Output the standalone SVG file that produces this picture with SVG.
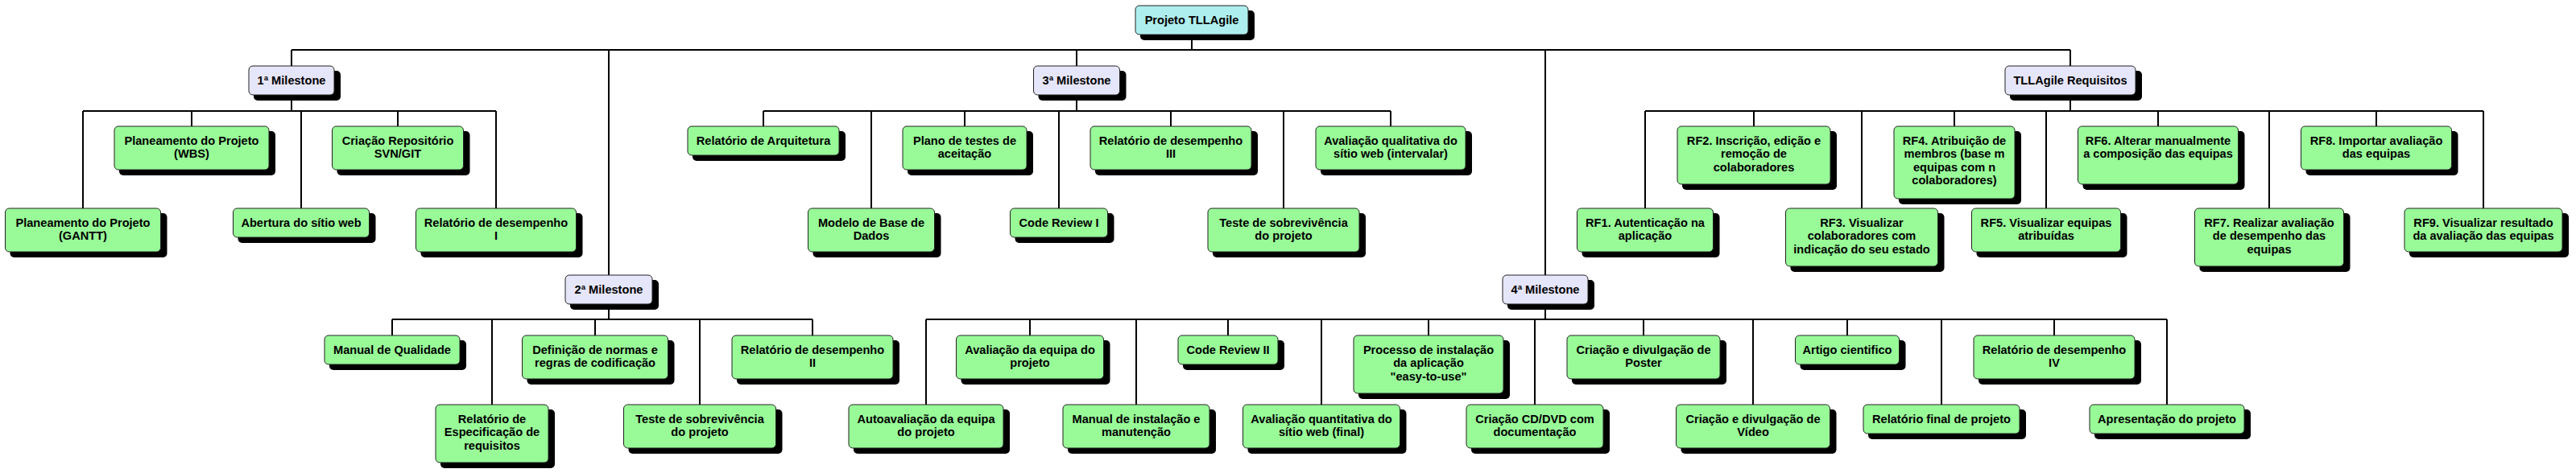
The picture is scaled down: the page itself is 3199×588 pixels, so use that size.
<svg xmlns="http://www.w3.org/2000/svg" width="3199" height="588" viewBox="0 0 3199 588">
<style>
.sh{fill:#000}
.bx{stroke:#222;stroke-width:1}
.root .bx{fill:#AFEEEE}
.ms .bx{fill:#E6E6FA}
.lf .bx{fill:#98FB98}
text{font-family:"Liberation Sans",Arial,sans-serif;font-weight:bold;font-size:14.6px;fill:#000;text-anchor:middle}
.cn{fill:none;stroke:#000;stroke-width:2}
</style>
<rect width="3199" height="588" fill="#fff"/>
<g id="connectors">
<path class="cn" d="M1480 43V62 M362 62H2571 M362 62V82 M756 62V342 M1337 62V82 M1919 62V342 M2571 62V82
M362 118V138 M103 138H616 M103 138V259 M238 138V157 M374 138V259 M494 138V157 M616 138V259
M1337 118V138 M948 138H1727 M948 138V157 M1082 138V259 M1198 138V157 M1315 138V259 M1454 138V157 M1594 138V259 M1727 138V157
M2571 118V138 M2043 138H3084 M2043 138V259 M2178 138V157 M2312 138V259 M2427 138V157 M2541 138V259 M2680 138V157 M2818 138V259 M2951 138V157 M3084 138V259
M756 378V397 M487 397H1009 M487 397V417 M611 397V503 M739 397V417 M869 397V503 M1009 397V417
M1919 378V397 M1150 397H2691 M1150 397V503 M1279 397V417 M1411 397V503 M1525 397V417 M1641 397V503 M1774 397V417 M1906 397V503 M2041 397V417 M2177 397V503 M2294 397V417 M2411 397V503 M2551 397V417 M2691 397V503"/>
</g>

<g id="root" class="root"><rect class="sh" x="1416" y="13" width="142" height="37" rx="5"/><rect class="bx" x="1410" y="7" width="140" height="36" rx="5"/><text x="1480" y="29.5">Projeto TLLAgile</text></g>

<g id="m1" class="ms"><rect class="sh" x="315" y="88" width="108" height="37" rx="5"/><rect class="bx" x="309" y="82" width="106" height="36" rx="5"/><text x="362" y="104.5">1ª Milestone</text></g>
<g id="m3" class="ms"><rect class="sh" x="1289.5" y="88" width="109" height="37" rx="5"/><rect class="bx" x="1283.5" y="82" width="107" height="36" rx="5"/><text x="1337" y="104.5">3ª Milestone</text></g>
<g id="req" class="ms"><rect class="sh" x="2496" y="88" width="164" height="37" rx="5"/><rect class="bx" x="2490" y="82" width="162" height="36" rx="5"/><text x="2571" y="104.5">TLLAgile Requisitos</text></g>
<g id="m2" class="ms"><rect class="sh" x="708" y="348" width="110" height="37" rx="5"/><rect class="bx" x="702" y="342" width="108" height="36" rx="5"/><text x="756" y="364.5">2ª Milestone</text></g>
<g id="m4" class="ms"><rect class="sh" x="1872" y="348" width="108" height="37" rx="5"/><rect class="bx" x="1866" y="342" width="106" height="36" rx="5"/><text x="1919" y="364.5">4ª Milestone</text></g>

<g id="gantt" class="lf"><rect class="sh" x="12.5" y="265" width="195" height="55" rx="5"/><rect class="bx" x="6.5" y="259" width="193" height="54" rx="5"/><text x="103" y="281.5">Planeamento do Projeto<tspan x="103" dy="16.6">(GANTT)</tspan></text></g>
<g id="wbs" class="lf"><rect class="sh" x="148" y="163" width="194" height="55" rx="5"/><rect class="bx" x="142" y="157" width="192" height="54" rx="5"/><text x="238" y="179.5">Planeamento do Projeto<tspan x="238" dy="16.6">(WBS)</tspan></text></g>
<g id="abertura" class="lf"><rect class="sh" x="295.5" y="265" width="171" height="37" rx="5"/><rect class="bx" x="289.5" y="259" width="169" height="36" rx="5"/><text x="374" y="281.5">Abertura do sítio web</text></g>
<g id="repo" class="lf"><rect class="sh" x="418.5" y="163" width="165" height="55" rx="5"/><rect class="bx" x="412.5" y="157" width="163" height="54" rx="5"/><text x="494" y="179.5">Criação Repositório<tspan x="494" dy="16.6">SVN/GIT</tspan></text></g>
<g id="rel1" class="lf"><rect class="sh" x="522.5" y="265" width="201" height="55" rx="5"/><rect class="bx" x="516.5" y="259" width="199" height="54" rx="5"/><text x="616" y="281.5">Relatório de desempenho<tspan x="616" dy="16.6">I</tspan></text></g>

<g id="arq" class="lf"><rect class="sh" x="860" y="163" width="190" height="37" rx="5"/><rect class="bx" x="854" y="157" width="188" height="36" rx="5"/><text x="948" y="179.5">Relatório de Arquitetura</text></g>
<g id="bd" class="lf"><rect class="sh" x="1009.5" y="265" width="159" height="55" rx="5"/><rect class="bx" x="1003.5" y="259" width="157" height="54" rx="5"/><text x="1082" y="281.5">Modelo de Base de<tspan x="1082" dy="16.6">Dados</tspan></text></g>
<g id="plano" class="lf"><rect class="sh" x="1127" y="163" width="156" height="55" rx="5"/><rect class="bx" x="1121" y="157" width="154" height="54" rx="5"/><text x="1198" y="179.5">Plano de testes de<tspan x="1198" dy="16.6">aceitação</tspan></text></g>
<g id="cr1" class="lf"><rect class="sh" x="1260.5" y="265" width="123" height="37" rx="5"/><rect class="bx" x="1254.5" y="259" width="121" height="36" rx="5"/><text x="1315" y="281.5">Code Review I</text></g>
<g id="rel3" class="lf"><rect class="sh" x="1360" y="163" width="202" height="55" rx="5"/><rect class="bx" x="1354" y="157" width="200" height="54" rx="5"/><text x="1454" y="179.5">Relatório de desempenho<tspan x="1454" dy="16.6">III</tspan></text></g>
<g id="teste1" class="lf"><rect class="sh" x="1506" y="265" width="190" height="55" rx="5"/><rect class="bx" x="1500" y="259" width="188" height="54" rx="5"/><text x="1594" y="281.5">Teste de sobrevivência<tspan x="1594" dy="16.6">do projeto</tspan></text></g>
<g id="avq" class="lf"><rect class="sh" x="1640" y="163" width="188" height="55" rx="5"/><rect class="bx" x="1634" y="157" width="186" height="54" rx="5"/><text x="1727" y="179.5">Avaliação qualitativa do<tspan x="1727" dy="16.6">sítio web (intervalar)</tspan></text></g>

<g id="rf1" class="lf"><rect class="sh" x="1964.5" y="265" width="171" height="55" rx="5"/><rect class="bx" x="1958.5" y="259" width="169" height="54" rx="5"/><text x="2043" y="281.5">RF1. Autenticação na<tspan x="2043" dy="16.6">aplicação</tspan></text></g>
<g id="rf2" class="lf"><rect class="sh" x="2089" y="163" width="192" height="73" rx="5"/><rect class="bx" x="2083" y="157" width="190" height="72" rx="5"/><text x="2178" y="179.5">RF2. Inscrição, edição e<tspan x="2178" dy="16.6">remoção de</tspan><tspan x="2178" dy="16.6">colaboradores</tspan></text></g>
<g id="rf3" class="lf"><rect class="sh" x="2223.5" y="265" width="191" height="73" rx="5"/><rect class="bx" x="2217.5" y="259" width="189" height="72" rx="5"/><text x="2312" y="281.5">RF3. Visualizar<tspan x="2312" dy="16.6">colaboradores com</tspan><tspan x="2312" dy="16.6">indicação do seu estado</tspan></text></g>
<g id="rf4" class="lf"><rect class="sh" x="2358" y="163" width="152" height="91" rx="5"/><rect class="bx" x="2352" y="157" width="150" height="90" rx="5"/><text x="2427" y="179.5">RF4. Atribuição de<tspan x="2427" dy="16.6">membros (base m</tspan><tspan x="2427" dy="16.6">equipas com n</tspan><tspan x="2427" dy="16.6">colaboradores)</tspan></text></g>
<g id="rf5" class="lf"><rect class="sh" x="2454.5" y="265" width="187" height="55" rx="5"/><rect class="bx" x="2448.5" y="259" width="185" height="54" rx="5"/><text x="2541" y="281.5">RF5. Visualizar equipas<tspan x="2541" dy="16.6">atribuídas</tspan></text></g>
<g id="rf6" class="lf"><rect class="sh" x="2586.5" y="163" width="201" height="73" rx="5"/><rect class="bx" x="2580.5" y="157" width="199" height="72" rx="5"/><text x="2680" y="179.5">RF6. Alterar manualmente<tspan x="2680" dy="16.6">a composição das equipas</tspan></text></g>
<g id="rf7" class="lf"><rect class="sh" x="2731.5" y="265" width="187" height="73" rx="5"/><rect class="bx" x="2725.5" y="259" width="185" height="72" rx="5"/><text x="2818" y="281.5">RF7. Realizar avaliação<tspan x="2818" dy="16.6">de desempenho das</tspan><tspan x="2818" dy="16.6">equipas</tspan></text></g>
<g id="rf8" class="lf"><rect class="sh" x="2863.5" y="163" width="189" height="55" rx="5"/><rect class="bx" x="2857.5" y="157" width="187" height="54" rx="5"/><text x="2951" y="179.5">RF8. Importar avaliação<tspan x="2951" dy="16.6">das equipas</tspan></text></g>
<g id="rf9" class="lf"><rect class="sh" x="2992" y="265" width="198" height="55" rx="5"/><rect class="bx" x="2986" y="259" width="196" height="54" rx="5"/><text x="3084" y="281.5">RF9. Visualizar resultado<tspan x="3084" dy="16.6">da avaliação das equipas</tspan></text></g>

<g id="mq" class="lf"><rect class="sh" x="409" y="423" width="170" height="37" rx="5"/><rect class="bx" x="403" y="417" width="168" height="36" rx="5"/><text x="487" y="439.5">Manual de Qualidade</text></g>
<g id="esp" class="lf"><rect class="sh" x="547" y="509" width="142" height="73" rx="5"/><rect class="bx" x="541" y="503" width="140" height="72" rx="5"/><text x="611" y="525.5">Relatório de<tspan x="611" dy="16.6">Especificação de</tspan><tspan x="611" dy="16.6">requisitos</tspan></text></g>
<g id="def" class="lf"><rect class="sh" x="654.5" y="423" width="183" height="55" rx="5"/><rect class="bx" x="648.5" y="417" width="181" height="54" rx="5"/><text x="739" y="439.5">Definição de normas e<tspan x="739" dy="16.6">regras de codificação</tspan></text></g>
<g id="teste2" class="lf"><rect class="sh" x="780.5" y="509" width="191" height="55" rx="5"/><rect class="bx" x="774.5" y="503" width="189" height="54" rx="5"/><text x="869" y="525.5">Teste de sobrevivência<tspan x="869" dy="16.6">do projeto</tspan></text></g>
<g id="rel2" class="lf"><rect class="sh" x="915" y="423" width="202" height="55" rx="5"/><rect class="bx" x="909" y="417" width="200" height="54" rx="5"/><text x="1009" y="439.5">Relatório de desempenho<tspan x="1009" dy="16.6">II</tspan></text></g>

<g id="auto" class="lf"><rect class="sh" x="1060" y="509" width="194" height="55" rx="5"/><rect class="bx" x="1054" y="503" width="192" height="54" rx="5"/><text x="1150" y="525.5">Autoavaliação da equipa<tspan x="1150" dy="16.6">do projeto</tspan></text></g>
<g id="aveq" class="lf"><rect class="sh" x="1193.5" y="423" width="185" height="55" rx="5"/><rect class="bx" x="1187.5" y="417" width="183" height="54" rx="5"/><text x="1279" y="439.5">Avaliação da equipa do<tspan x="1279" dy="16.6">projeto</tspan></text></g>
<g id="manual" class="lf"><rect class="sh" x="1326" y="509" width="184" height="55" rx="5"/><rect class="bx" x="1320" y="503" width="182" height="54" rx="5"/><text x="1411" y="525.5">Manual de instalação e<tspan x="1411" dy="16.6">manutenção</tspan></text></g>
<g id="cr2" class="lf"><rect class="sh" x="1469" y="423" width="126" height="37" rx="5"/><rect class="bx" x="1463" y="417" width="124" height="36" rx="5"/><text x="1525" y="439.5">Code Review II</text></g>
<g id="avquant" class="lf"><rect class="sh" x="1549.5" y="509" width="197" height="55" rx="5"/><rect class="bx" x="1543.5" y="503" width="195" height="54" rx="5"/><text x="1641" y="525.5">Avaliação quantitativa do<tspan x="1641" dy="16.6">sítio web (final)</tspan></text></g>
<g id="proc" class="lf"><rect class="sh" x="1687" y="423" width="188" height="73" rx="5"/><rect class="bx" x="1681" y="417" width="186" height="72" rx="5"/><text x="1774" y="439.5">Processo de instalação<tspan x="1774" dy="16.6">da aplicação</tspan><tspan x="1774" dy="16.6">"easy-to-use"</tspan></text></g>
<g id="cd" class="lf"><rect class="sh" x="1827" y="509" width="172" height="55" rx="5"/><rect class="bx" x="1821" y="503" width="170" height="54" rx="5"/><text x="1906" y="525.5">Criação CD/DVD com<tspan x="1906" dy="16.6">documentação</tspan></text></g>
<g id="poster" class="lf"><rect class="sh" x="1952" y="423" width="192" height="55" rx="5"/><rect class="bx" x="1946" y="417" width="190" height="54" rx="5"/><text x="2041" y="439.5">Criação e divulgação de<tspan x="2041" dy="16.6">Poster</tspan></text></g>
<g id="video" class="lf"><rect class="sh" x="2087.5" y="509" width="193" height="55" rx="5"/><rect class="bx" x="2081.5" y="503" width="191" height="54" rx="5"/><text x="2177" y="525.5">Criação e divulgação de<tspan x="2177" dy="16.6">Vídeo</tspan></text></g>
<g id="artigo" class="lf"><rect class="sh" x="2235.5" y="423" width="131" height="37" rx="5"/><rect class="bx" x="2229.5" y="417" width="129" height="36" rx="5"/><text x="2294" y="439.5">Artigo cientifico</text></g>
<g id="final" class="lf"><rect class="sh" x="2320" y="509" width="196" height="37" rx="5"/><rect class="bx" x="2314" y="503" width="194" height="36" rx="5"/><text x="2411" y="525.5">Relatório final de projeto</text></g>
<g id="rel4" class="lf"><rect class="sh" x="2457" y="423" width="202" height="55" rx="5"/><rect class="bx" x="2451" y="417" width="200" height="54" rx="5"/><text x="2551" y="439.5">Relatório de desempenho<tspan x="2551" dy="16.6">IV</tspan></text></g>
<g id="apres" class="lf"><rect class="sh" x="2601" y="509" width="194" height="37" rx="5"/><rect class="bx" x="2595" y="503" width="192" height="36" rx="5"/><text x="2691" y="525.5">Apresentação do projeto</text></g>
</svg>
